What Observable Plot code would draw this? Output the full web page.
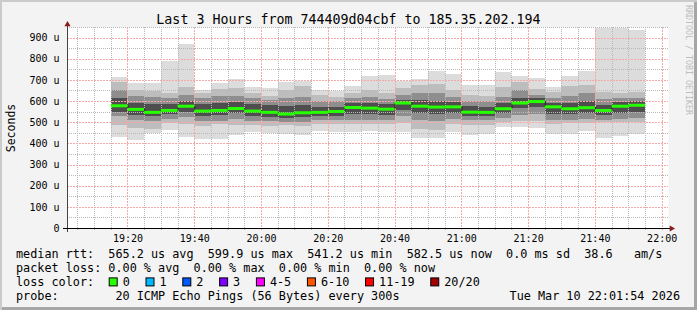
<!DOCTYPE html>
<html>
<head>
<meta charset="utf-8">
<script src="https://cdn.jsdelivr.net/npm/d3@7"></script>
<script src="https://cdn.jsdelivr.net/npm/@observablehq/plot@0.6"></script>
<style>
  html, body { margin: 0; padding: 0; background: #fff; }
  #chart { position: relative; width: 697px; height: 310px; background: #f3f3f3; overflow: hidden;
           box-shadow: inset 2px 2px 0 #cbcbcb, inset -3px -3px 0 #a6a6a6; }
  #chart > svg { position: absolute; left: 0; top: 0; }
  #ov { pointer-events: none; font-family: "DejaVu Sans Mono", monospace; }
  #ov .pre { white-space: pre; }
</style>
</head>
<body>
<div id="chart"></div>
<script>
// ---- data (values in microseconds) ----
const barStart = ["19:15","19:20","19:25","19:30","19:35","19:40","19:45","19:50","19:55","20:00",
                  "20:05","20:10","20:15","20:20","20:25","20:30","20:35","20:40","20:45","20:50",
                  "20:55","21:00","21:05","21:10","21:15","21:20","21:25","21:30","21:35","21:40",
                  "21:45","21:50"];
const pingMax  = [715,687,687,791,869,650,687,702,665,660,688,695,651,646,671,718,723,695,702,742,727,676,676,738,718,707,665,718,742,946,946,935];
const ping90   = [688,652,648,640,665,640,655,660,640,625,650,670,630,620,640,650,640,660,675,680,650,630,625,665,690,655,645,670,675,645,640,645];
const ping75   = [652,625,620,615,630,615,625,625,615,605,615,620,600,600,615,620,610,630,640,640,620,600,600,620,650,630,615,625,640,610,615,615];
const ping60   = [613,590,585,585,600,585,590,595,585,580,575,580,570,570,590,590,585,605,605,600,595,575,570,590,615,615,590,590,600,580,595,600];
const medianRtt= [580,563,549,558,578,555,558,567,555,549,541,547,549,553,572,569,564,593,578,574,575,550,549,566,593,600,575,566,571,558,578,582.5];
const ping40   = [549,535,530,540,550,530,535,545,530,525,520,525,530,530,540,540,535,560,545,540,545,530,530,545,565,570,540,540,545,535,545,550];
const ping25   = [530,510,505,515,525,505,505,515,505,505,500,500,510,510,510,510,510,530,510,505,515,510,510,520,535,540,510,510,515,510,515,520];
const ping10   = [486,475,470,495,490,480,490,485,485,480,485,480,490,490,490,490,490,495,470,465,490,485,485,500,505,505,490,495,495,500,500,500];
const pingMin  = [432,418,451,463,432,421,421,440,452,448,443,440,459,455,455,460,455,452,424,424,453,438,442,479,479,471,443,443,460,427,436,445];

const xTickLabels = ["19:20","19:40","20:00","20:20","20:40","21:00","21:20","21:40","22:00"];
const yTicks = [0,100,200,300,400,500,600,700,800,900];

const title = "Last 3 Hours from 744409d04cbf to 185.35.202.194";
const legendLines = [
  "median rtt:  565.2 us avg  599.9 us max  541.2 us min  582.5 us now  0.0 ms sd  38.6   am/s",
  "packet loss: 0.00 % avg  0.00 % max  0.00 % min  0.00 % now",
  "loss color:",
  "probe:        20 ICMP Echo Pings (56 Bytes) every 300s"
];
const stampText = "Tue Mar 10 22:01:54 2026";
const lossLabels = ["0","1","2","3","4-5","6-10","11-19","20/20"];
const lossColors = ["#26ff00","#00b8ff","#0059ff","#7e00ff","#ff00ff","#ff5500","#ff0000","#a10000"];

// ---- build ----
const day = (h, m, s = 0) => new Date(Date.UTC(2026, 2, 10, h, m, s));
const hm = str => { const [h, m] = str.split(":").map(Number); return day(h, m); };
const T0 = day(19, 1, 54), T1 = day(22, 1, 54);
const STEP = 5 * 60 * 1000;

const rows = barStart.map((s, i) => ({
  t: hm(s), t2: new Date(+hm(s) + STEP),
  max: pingMax[i], p90: ping90[i], p75: ping75[i], p60: ping60[i], med: medianRtt[i],
  p40: ping40[i], p25: ping25[i], p10: ping10[i], min: pingMin[i],
  prev: i ? medianRtt[i - 1] : medianRtt[i]
}));

const majorX = xTickLabels.map(hm);
const allX = d3.utcMinute.every(5).range(T0, T1);
const minorX = allX.filter(d => d.getUTCMinutes() % 20 !== 0);
const majorY = yTicks.filter(d => d > 0);
const minorY = majorY.map(d => d - 50).concat([949.9]).filter(d => d % 100 !== 0);

const plot = Plot.plot({
  width: 697, height: 250,
  marginTop: 27, marginBottom: 22, marginLeft: 67, marginRight: 29,
  style: { background: "transparent", fontFamily: "'DejaVu Sans Mono', monospace", fontSize: "10px", color: "#000", overflow: "visible" },
  x: { type: "utc", domain: [T0, T1], label: null },
  y: { domain: [0, 950], label: null },
  marks: [
    Plot.frame({ fill: "#fff", stroke: null }),
    Plot.rect(rows, { x1: "t", x2: "t2", y1: "min", y2: "max", fill: "#dcdcdc", shapeRendering: "crispEdges" }),
    Plot.rect(rows, { x1: "t", x2: "t2", y1: "p10", y2: "p90", fill: "#bdbdbd", shapeRendering: "crispEdges" }),
    Plot.rect(rows, { x1: "t", x2: "t2", y1: "p25", y2: "p75", fill: "#8e8e8e", shapeRendering: "crispEdges" }),
    Plot.rect(rows, { x1: "t", x2: "t2", y1: "p40", y2: "p60", fill: "#4e4e4e", shapeRendering: "crispEdges" }),
    Plot.ruleY(minorY, { stroke: "#b8b8b8", strokeDasharray: "1,1", shapeRendering: "crispEdges" }),
    Plot.ruleX(minorX, { stroke: "#b8b8b8", strokeDasharray: "1,1", shapeRendering: "crispEdges" }),
    Plot.ruleY(majorY, { stroke: "#f4a8a8", strokeDasharray: "2,1", shapeRendering: "crispEdges" }),
    Plot.ruleX(majorX, { stroke: "#f4a8a8", strokeDasharray: "2,1", shapeRendering: "crispEdges" }),
    Plot.ruleX(rows.slice(1), { x: "t", y1: "prev", y2: "med", stroke: "#111", strokeWidth: 1 }),
    Plot.ruleY(rows, { x1: "t", x2: "t2", y: "med", stroke: "#26ff00", strokeWidth: 3 }),
    Plot.ruleX(allX, { y1: 0, y2: -9, stroke: "#e08a8a" }),
    Plot.ruleX([T0], { stroke: "#444", insetTop: -5, insetBottom: -4 }),
    Plot.ruleY([0], { stroke: "#000", insetLeft: -4, insetRight: -4 }),
    Plot.dot([0], { frameAnchor: "top-left", dy: -3, symbol: "triangle", r: 2.3, fill: "#8b1a1a", stroke: null }),
    Plot.dot([0], { frameAnchor: "bottom-right", dx: 3, symbol: "triangle", rotate: 90, r: 2.3, fill: "#8b1a1a", stroke: null }),
    Plot.axisY({ ticks: yTicks, tickFormat: d => d === 0 ? "0" : `${d} u`, tickSize: 0, tickPadding: 8, label: null }),
    Plot.axisX({ ticks: majorX, tickFormat: d3.utcFormat("%H:%M"), tickSize: 0, tickPadding: 6.5, label: null })
  ]
});

const chart = document.getElementById("chart");
chart.appendChild(plot);

// overlay texts: title, axis label, watermark, legend
const ov = d3.select(chart).append("svg").attr("id", "ov").attr("width", 697).attr("height", 310);
ov.append("text").attr("x", 348.5).attr("y", 24).attr("text-anchor", "middle").attr("font-size", 13.3).text(title);
ov.append("text").attr("transform", "translate(14.5,128) rotate(-90)").attr("text-anchor", "middle").attr("font-size", 11.5).text("Seconds");
ov.append("text").attr("transform", "translate(685.5,5) rotate(90)").attr("font-size", 8.3).attr("fill", "#bdbdbd").text("RRDTOOL / TOBI OETIKER");

const baselines = [258.3, 272.3, 286.4, 300.3];
legendLines.forEach((line, i) => {
  ov.append("text").attr("class", "pre").attr("x", 16).attr("y", baselines[i]).attr("font-size", 11.8).text(line);
});
ov.append("text").attr("x", 680).attr("y", baselines[3]).attr("text-anchor", "end").attr("font-size", 11.8).text(stampText);

// loss colour swatches
let lx = 108.7;
const charW = 11.8 * 0.602;
lossLabels.forEach((lab, i) => {
  ov.append("rect").attr("x", lx + 0.5).attr("y", baselines[2] - 8.5).attr("width", 8).attr("height", 8)
    .attr("fill", lossColors[i]).attr("stroke", "#000").attr("stroke-width", 1);
  ov.append("text").attr("x", lx + 14).attr("y", baselines[2]).attr("font-size", 11.8).text(lab);
  lx += 14 + lab.length * charW + 15.7;
});
</script>
</body>
</html>
